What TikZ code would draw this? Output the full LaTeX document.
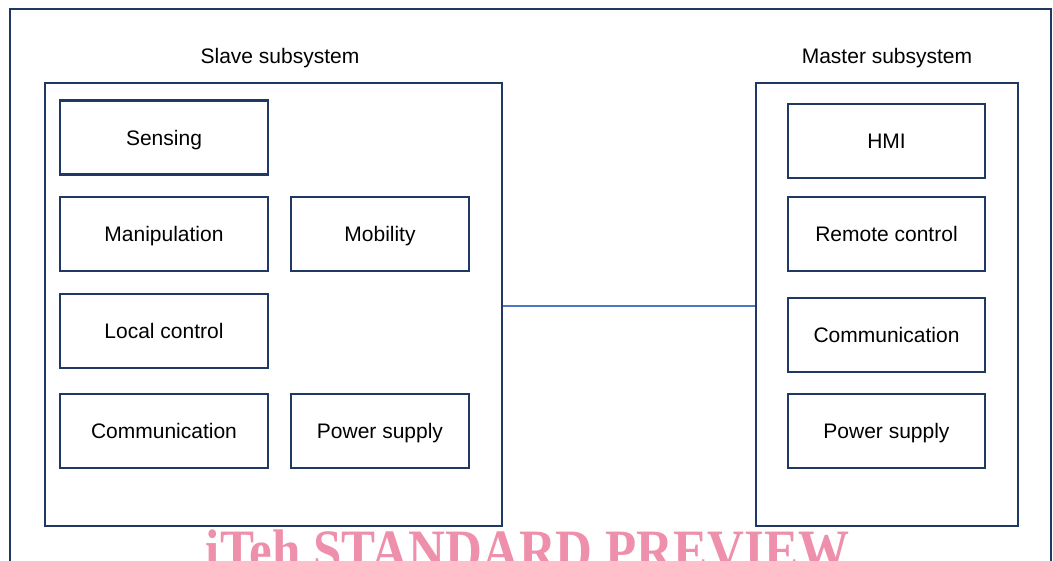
\documentclass[tikz,border=0pt]{standalone}
\usepackage{fontspec}
\setmainfont{Liberation Sans}
\newfontfamily\markfont{Liberation Serif}
\usetikzlibrary{positioning}
\definecolor{navy}{HTML}{203864}
\definecolor{link}{HTML}{4A78C2}
\definecolor{stamp}{HTML}{EE8FAB}
\tikzset{
  frame/.style={draw=navy, line width=2pt},
  part/.style={draw=navy, line width=2.6pt, minimum height=74pt, inner sep=0pt, text height=15pt, text depth=0pt, align=center, font=\fontsize{21}{24}\selectfont},
  wide/.style={part, minimum width=208pt},
  narrow/.style={part, minimum width=178pt},
  mbox/.style={part, minimum width=197pt},
  title/.style={font=\fontsize{21}{24}\selectfont, inner sep=0pt, text height=15pt, text depth=0pt},
  wire/.style={draw=link, line width=1.4pt},
}
\begin{document}
\begin{tikzpicture}[x=1pt,y=-1pt]
    \useasboundingbox (0,0) rectangle (1053,560);
    \clip (0,0) rectangle (1053,560);
    \fill[white] (0,0) rectangle (1053,560);
    \draw[frame] (10,9) rectangle (1051,590);
    % slave side
    \node[frame, minimum width=457pt, minimum height=443pt, inner sep=0pt] (slave) at (273.5,304.5) {};
    \node[title] (slavet) at (280,56) {Slave subsystem};
    \node[wide] (sens) at (164,137.5) {Sensing};
    \node[wide] (manip) at (164,234) {Manipulation};
    \node[narrow] (mob) at (380,234) {Mobility};
    \node[wide] (local) at (164,331) {Local control};
    \node[wide] (scomm) at (164,431) {Communication};
    \node[narrow] (spower) at (380,431) {Power supply};
    % master side
    \node[frame, minimum width=262pt, minimum height=443pt, inner sep=0pt] (master) at (887,304.5) {};
    \node[title] (mastert) at (887,56) {Master subsystem};
    \node[mbox] (hmi) at (886.5,141) {HMI};
    \node[mbox] (remote) at (886.5,234) {Remote control};
    \node[mbox] (mcomm) at (886.5,335) {Communication};
    \node[mbox] (mpower) at (886.5,431) {Power supply};
    \draw[wire] ([yshift=-1.5pt]slave.east) -- ([yshift=-1.5pt]master.west);
    % watermark
    \node[text=stamp, font=\markfont\bfseries\fontsize{51}{51}\selectfont, inner sep=0pt, anchor=base, yscale=1.15] (mark) at (527.5,570) {iTeh STANDARD PREVIEW};
\end{tikzpicture}
\end{document}
